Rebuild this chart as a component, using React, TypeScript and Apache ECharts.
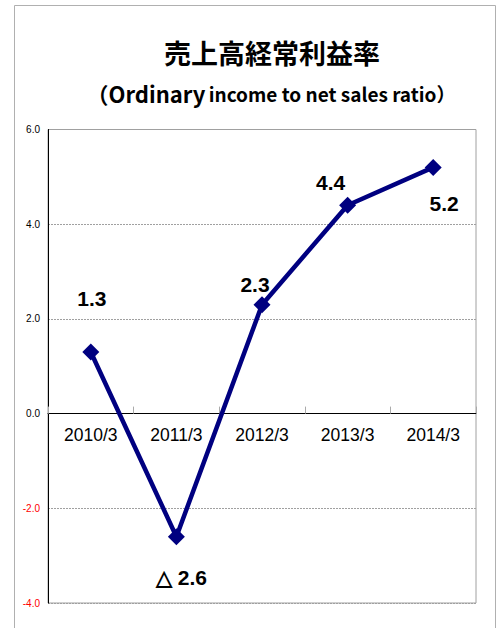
import React, { useEffect, useRef } from "react";
import * as echarts from "echarts";

const categories = ["2010/3", "2011/3", "2012/3", "2013/3", "2014/3"];
const values = [1.3, -2.6, 2.3, 4.4, 5.2];
const labelTexts = ["1.3", "△ 2.6", "2.3", "4.4", "5.2"];
const labelOffsets: [number, number][] = [[1, -54], [5, 41], [-7, -20], [-17, -23], [11, 36]];

export default function App() {
  const ref = useRef<HTMLDivElement>(null);
  useEffect(() => {
    const chart = echarts.init(ref.current!, null, { renderer: "svg" });
    chart.setOption({
      animation: false,
      backgroundColor: "#ffffff",
      graphic: [
        {
          type: "rect",
          shape: { x: 14.5, y: 5.5, width: 481, height: 640 },
          style: { fill: "none", stroke: "#b0b0b0", lineWidth: 1 },
          z: -1,
        },
        {
          type: "text",
          x: 272,
          y: 52,
          style: {
            text: "売上高経常利益率",
            font: 'bold 27px "Noto Sans CJK JP", sans-serif',
            fill: "#000",
            textAlign: "center",
            textVerticalAlign: "middle",
          },
        },
        {
          type: "text",
          x: 271,
          y: 93,
          style: {
            text: "{a|（Ordinary} {b|income to net sales ratio）}",
            textAlign: "center",
            textVerticalAlign: "middle",
            rich: {
              a: { font: 'bold 22px "Noto Sans CJK JP", sans-serif', fill: "#000" },
              b: { font: 'bold 19px "Noto Sans CJK JP", sans-serif', fill: "#000" },
            },
          },
        },
      ],
      grid: {
        left: 48,
        right: 25,
        top: 129.5,
        bottom: 25,
        show: true,
        borderColor: "#a0a0a0",
        borderWidth: 1,
      },
      xAxis: {
        type: "category",
        data: categories,
        axisLine: { onZero: true, lineStyle: { color: "#000", width: 1 } },
        axisTick: { show: true, inside: true, length: 7, lineStyle: { color: "#aaa" } },
        axisLabel: {
          color: "#000",
          fontSize: 17.5,
          fontFamily: "Liberation Sans, Arial, sans-serif",
          margin: -177,
        },
      },
      yAxis: {
        type: "value",
        min: -4,
        max: 6,
        interval: 2,
        axisLine: { show: true, lineStyle: { color: "#000", width: 1 } },
        axisTick: { show: false },
        splitLine: { show: true, lineStyle: { color: "#a0a0a0", type: [2, 1], width: 1 } },
        axisLabel: {
          fontSize: 10,
          fontFamily: "Liberation Sans, Arial, sans-serif",
          margin: 8,
          formatter: (v: number) => v.toFixed(1),
          color: (v: any) => (Number(v) < 0 ? "#ff0000" : "#000"),
        },
      },
      series: [
        {
          type: "line",
          data: values.map((v, i) => ({
            value: v,
            label: {
              show: true,
              position: "inside",
              offset: labelOffsets[i],
              formatter: labelTexts[i],
            },
          })),
          symbol: "diamond",
          symbolSize: 17,
          itemStyle: { color: "#000080" },
          lineStyle: { color: "#000080", width: 4.5 },
          label: {
            show: true,
            color: "#000",
            fontSize: 21,
            fontWeight: "bold",
            fontFamily: "Liberation Sans, Arial, sans-serif",
          },
          z: 5,
        },
      ],
    });
    return () => chart.dispose();
  }, []);
  return (
    <div
      ref={ref}
      style={{ position: "absolute", left: 0, top: 0, width: 501, height: 628 }}
    />
  );
}
